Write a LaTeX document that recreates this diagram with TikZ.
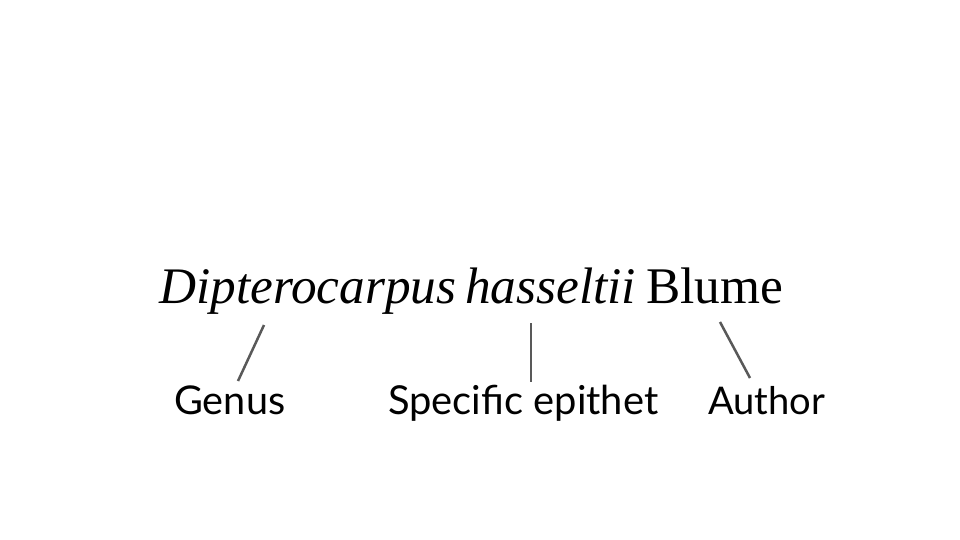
\documentclass[tikz,border=0pt]{standalone}
\usepackage{fontspec}
\newfontfamily\labelfont{Lato}
\newfontfamily\titlefont{Liberation Serif}
\begin{document}
\begin{tikzpicture}[x=1pt,y=-1pt,
  word/.style={anchor=base west,inner sep=0pt,font=\titlefont\fontsize{52}{60}\selectfont},
  lab/.style={anchor=base west,inner sep=0pt,font=\labelfont\fontsize{36}{42}\selectfont},
  lead/.style={draw=black!65,line width=2.5pt}]
\useasboundingbox[fill=white] (0,0) rectangle (960,540);
\node[word] (genus) at (159,303) {\resizebox{297pt}{!}{\itshape Dipterocarpus}};
\node[word] (epithet) at (465,303) {\resizebox{171pt}{!}{\itshape hasseltii}};
\node[word] (author) at (646,303) {\resizebox{137pt}{!}{Blume}};
\node[lab] (lgenus) at (174,414) {\resizebox{111pt}{!}{Genus}};
\node[lab] (lepithet) at (388,414) {\resizebox{270pt}{!}{Specific epithet}};
\node[lab] (lauthor) at (708,414) {\resizebox{117pt}{!}{Author}};
\coordinate (g1) at (264,325); \coordinate (g2) at (238,381);
\coordinate (e1) at (531,323); \coordinate (e2) at (531,382);
\coordinate (a1) at (720,322); \coordinate (a2) at (750,378);
\draw[lead] (g1) -- (g2);
\draw[lead] (e1) -- (e2);
\draw[lead] (a1) -- (a2);
\end{tikzpicture}
\end{document}
